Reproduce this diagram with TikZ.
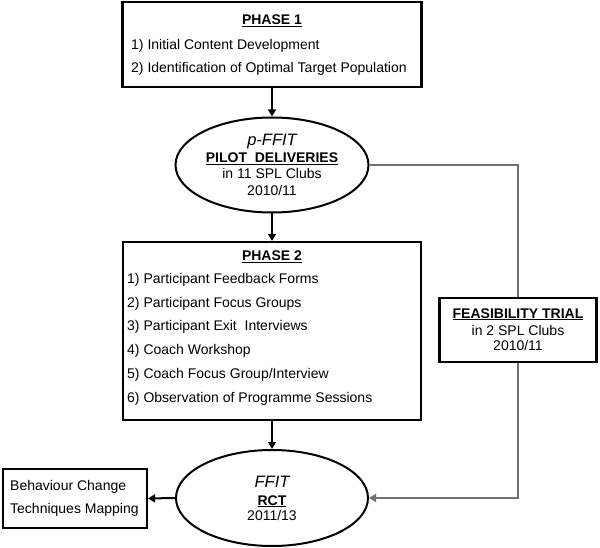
\documentclass[tikz,border=0pt]{standalone}
\usepackage{fontspec}
\setmainfont{Liberation Sans}
\usetikzlibrary{arrows.meta,shapes.geometric}
\definecolor{linegray}{HTML}{707070}
\begin{document}
\begin{tikzpicture}[x=1pt,y=-1pt,
  every node/.style={font=\fontsize{14}{16}\selectfont},
  box/.style={draw, line width=2.2pt, inner sep=0pt, rectangle},
  ell/.style={draw, line width=2pt, inner sep=0pt, ellipse},
  txt/.style={inner sep=0pt, anchor=base},
  ltxt/.style={inner sep=0pt, anchor=base west},
  big/.style={font=\fontsize{16.5}{18}\selectfont\itshape},
  arr/.style={line width=2pt, -{Triangle[length=7pt,width=8pt]}},
  garr/.style={line width=2pt, draw=linegray, -{Triangle[length=7pt,width=8pt]}},
  gline/.style={line width=2pt, draw=linegray}
]
\useasboundingbox (0,0) rectangle (600,548);

% boxes
\node[box, minimum width=299pt, minimum height=85pt] (p1) at (272,44.5) {};
\node[ell, minimum width=193pt, minimum height=95pt] (e1) at (272,165) {};
\node[box, minimum width=298pt, minimum height=178pt] (p2) at (272,331) {};
\node[ell, minimum width=192pt, minimum height=96pt] (rct) at (272,498) {};
\node[box, minimum width=157pt, minimum height=64pt] (feas) at (518,330) {};
\node[box, minimum width=144pt, minimum height=59pt] (bct) at (75,498.5) {};

% connectors
\draw[arr] (p1.south) -- (e1.north);
\draw[arr] (e1.south) -- (p2.north);
\draw[arr] (p2.south) -- (rct.north);
\draw[arr] (rct.west) -- (bct.east);
\draw[gline] (e1.east) -| (feas.north);
\draw[garr] (feas.south) |- (rct.east);

% Phase 1 text
\node[txt] (p1h) at (272,25) {\textbf{\underline{PHASE 1}}};
\node[ltxt] (p1a) at (131,50) {1) Initial Content Development};
\node[ltxt] (p1b) at (131,73) {2) Identification of Optimal Target Population};

% pilot ellipse text
\node[txt, big] (e1a) at (272,146) {p-FFIT};
\node[txt] (e1b) at (272,162.5) {\textbf{\underline{PILOT~~DELIVERIES}}};
\node[txt] (e1c) at (272,179) {in 11 SPL Clubs};
\node[txt] (e1d) at (272,195.5) {2010/11};

% Phase 2 text
\node[txt] (p2h) at (272,261) {\textbf{\underline{PHASE 2}}};
\node[ltxt] (p2a) at (127,283.5) {1) Participant Feedback Forms};
\node[ltxt] (p2b) at (127,307.2) {2) Participant Focus Groups};
\node[ltxt] (p2c) at (127,330.9) {3) Participant Exit~~Interviews};
\node[ltxt] (p2d) at (127,354.6) {4) Coach Workshop};
\node[ltxt] (p2e) at (127,378.3) {5) Coach Focus Group/Interview};
\node[ltxt] (p2f) at (127,402) {6) Observation of Programme Sessions};

% feasibility text
\node[txt] (fa) at (518,318) {\textbf{\underline{FEASIBILITY TRIAL}}};
\node[txt] (fb) at (518,335) {in 2 SPL Clubs};
\node[txt] (fc) at (518,350.5) {2010/11};

% RCT text
\node[txt, big] (ra) at (272,487) {FFIT};
\node[txt] (rb) at (272,505) {\textbf{\underline{RCT}}};
\node[txt] (rc) at (272,520.5) {2011/13};

% BCT text
\node[ltxt] (ba) at (10,490) {Behaviour Change};
\node[ltxt] (bb) at (10,513) {Techniques Mapping};
\end{tikzpicture}
\end{document}
